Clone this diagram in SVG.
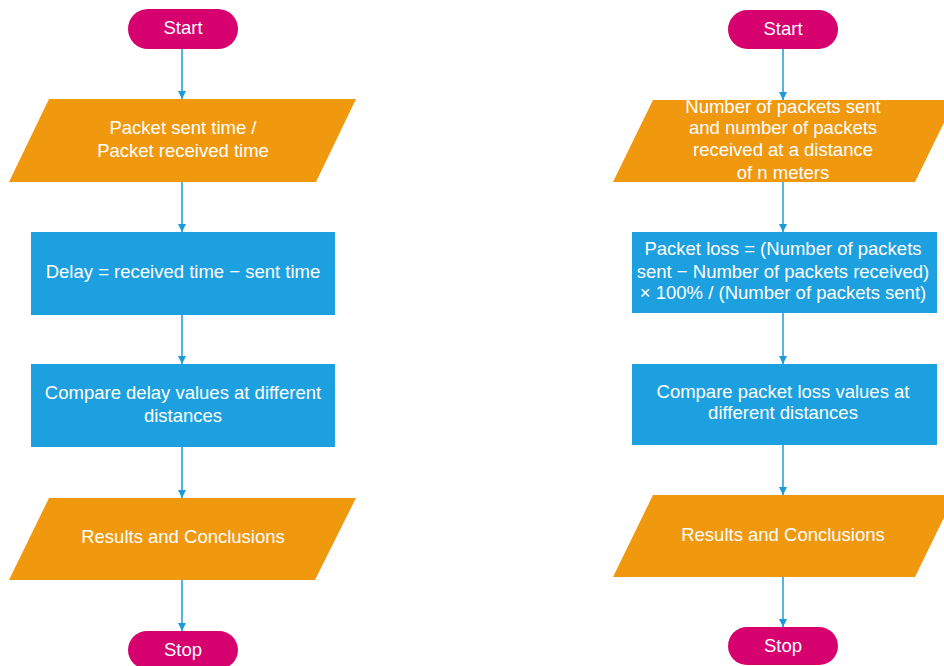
<svg xmlns="http://www.w3.org/2000/svg" width="944" height="666" viewBox="0 0 944 666">
<style>
.term{fill:#D6006E;}
.io{fill:#F0980E;}
.proc{fill:#1DA0E0;}
text{font-family:"Liberation Sans",Arial,sans-serif;font-size:18.5px;fill:#FFFFFF;text-anchor:middle;}
.edge{stroke:#1B9BD8;stroke-width:1.5;fill:none;marker-end:url(#arr);}
</style>
<defs>
<marker id="arr" markerUnits="userSpaceOnUse" markerWidth="10" markerHeight="10" refX="9" refY="5" orient="auto">
<path d="M1,1 L9,5 L1,9 z" fill="#1B9BD8"/>
</marker>
</defs>
<rect width="944" height="666" fill="#FFFFFF"/>
<g id="connectors">
<line class="edge" x1="182" y1="49" x2="182" y2="99"/>
<line class="edge" x1="182" y1="182" x2="182" y2="232"/>
<line class="edge" x1="182" y1="315" x2="182" y2="364"/>
<line class="edge" x1="182" y1="447" x2="182" y2="498"/>
<line class="edge" x1="182" y1="580" x2="182" y2="631"/>
<line class="edge" x1="783" y1="49" x2="783" y2="100"/>
<line class="edge" x1="783" y1="182" x2="783" y2="232"/>
<line class="edge" x1="783" y1="313" x2="783" y2="364"/>
<line class="edge" x1="783" y1="445" x2="783" y2="495"/>
<line class="edge" x1="783" y1="577" x2="783" y2="627"/>
</g>
<g id="start-left">
<rect class="term" x="128" y="9" width="110" height="40" rx="20"/>
<text x="183" y="34">Start</text>
</g>
<g id="input-left">
<polygon class="io" points="49,99 356,99 316,182 9,182"/>
<text x="183" y="134">Packet sent time /</text>
<text x="183" y="157">Packet received time</text>
</g>
<g id="delay">
<rect class="proc" x="31" y="232" width="304" height="83"/>
<text x="183" y="278">Delay = received time − sent time</text>
</g>
<g id="compare-delay">
<rect class="proc" x="31" y="364" width="304" height="83"/>
<text x="183" y="399">Compare delay values at different</text>
<text x="183" y="422">distances</text>
</g>
<g id="results-left">
<polygon class="io" points="49,498 356,498 315,580 9,580"/>
<text x="183" y="543">Results and Conclusions</text>
</g>
<g id="stop-left">
<rect class="term" x="128" y="631" width="110" height="38" rx="19"/>
<text x="183" y="656">Stop</text>
</g>
<g id="start-right">
<rect class="term" x="728" y="10" width="110" height="39" rx="19.5"/>
<text x="783" y="35">Start</text>
</g>
<g id="input-right">
<polygon class="io" points="653,100 955,100 915,182 613,182"/>
<text x="783" y="113">Number of packets sent</text>
<text x="783" y="134">and number of packets</text>
<text x="783" y="156">received at a distance</text>
<text x="783" y="179">of n meters</text>
</g>
<g id="packet-loss">
<rect class="proc" x="632" y="232" width="305" height="81"/>
<text x="783" y="255">Packet loss = (Number of packets</text>
<text x="783" y="278">sent − Number of packets received)</text>
<text x="783" y="299">× 100% / (Number of packets sent)</text>
</g>
<g id="compare-loss">
<rect class="proc" x="632" y="364" width="305" height="81"/>
<text x="783" y="398">Compare packet loss values at</text>
<text x="783" y="419">different distances</text>
</g>
<g id="results-right">
<polygon class="io" points="653,495 955,495 915,577 613,577"/>
<text x="783" y="541">Results and Conclusions</text>
</g>
<g id="stop-right">
<rect class="term" x="728" y="627" width="110" height="38" rx="19"/>
<text x="783" y="652">Stop</text>
</g>
</svg>
